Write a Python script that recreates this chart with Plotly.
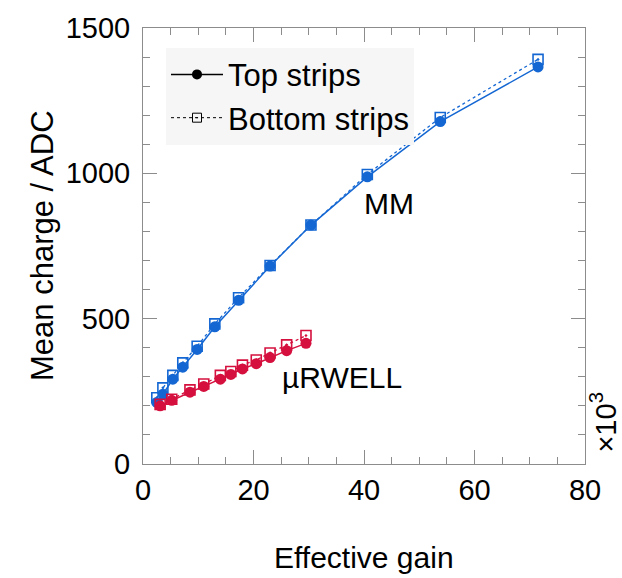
import plotly.graph_objects as go

# ---- data (effective gain in units of 10^3, mean charge in ADC) ----
mm_gain = [2.5, 3.6, 5.4, 7.2, 9.8, 13.0, 17.3, 23.0, 30.4, 40.6, 53.8, 71.5]
mm_top = [212, 240, 292, 333, 394, 472, 563, 681, 822, 988, 1178, 1366]
mm_bottom = [228, 262, 305, 348, 405, 482, 572, 683, 822, 996, 1192, 1392]

ur_gain = [3.1, 5.2, 8.5, 11.0, 14.0, 15.9, 18.0, 20.5, 23.0, 26.0, 29.5]
ur_top = [200, 219, 247, 267, 292, 308, 327, 345, 366, 390, 415]
ur_bottom = [205, 223, 255, 275, 305, 318, 340, 358, 382, 410, 442]

x_ticks = [0, 20, 40, 60, 80]
y_ticks = [0, 500, 1000, 1500]

BLUE = "#1467d3"
RED = "#d5103e"
GREY = "#8c8c8c"
FONT = "Liberation Sans, Arial, Helvetica, sans-serif"
FS_TICK = 29
FS_TXT = 30
FS_TITLE = 31

fig = go.Figure()

for gx, top, bot, col in [(mm_gain, mm_top, mm_bottom, BLUE),
                          (ur_gain, ur_top, ur_bottom, RED)]:
    fig.add_trace(go.Scatter(
        x=gx, y=bot, mode="lines+markers", showlegend=False,
        line=dict(color=col, width=1.3, dash="dot"),
        marker=dict(symbol="square-open-dot", size=10, color=col,
                    line=dict(color=col, width=1.6)),
    ))
    fig.add_trace(go.Scatter(
        x=gx, y=top, mode="lines+markers", showlegend=False,
        line=dict(color=col, width=1.5),
        marker=dict(symbol="circle", size=11, color=col),
    ))

# legend entries (black)
fig.add_trace(go.Scatter(
    x=[None], y=[None], mode="lines+markers", name="Top strips",
    line=dict(color="black", width=1.5),
    marker=dict(symbol="circle", size=10, color="black"),
))
fig.add_trace(go.Scatter(
    x=[None], y=[None], mode="lines+markers", name="Bottom strips",
    line=dict(color="black", width=1, dash="dot"),
    marker=dict(symbol="square-open-dot", size=9, color="black",
                line=dict(color="black", width=1)),
))

axis_common = dict(
    showgrid=False, zeroline=False, showline=True, linecolor=GREY,
    linewidth=1, mirror="allticks", ticks="inside", ticklen=14,
    tickwidth=1, tickcolor=GREY, tickfont=dict(size=FS_TICK, color="black"),
)

fig.update_xaxes(
    range=[0, 80], tickmode="array", tickvals=x_ticks,
    ticktext=[str(v) for v in x_ticks],
    minor=dict(dtick=5, tick0=0, ticks="inside", ticklen=7, tickcolor=GREY,
               showgrid=False),
    ticklabelstandoff=0,
    **axis_common,
)
fig.update_yaxes(
    range=[0, 1500], tickmode="array", tickvals=y_ticks,
    ticktext=[str(v) for v in y_ticks],
    minor=dict(dtick=100, tick0=0, ticks="inside", ticklen=7, tickcolor=GREY,
               showgrid=False),
    ticklabelstandoff=6,
    **axis_common,
)

fig.add_annotation(x=39.6, y=896, xref="x", yref="y", text="MM",
                   showarrow=False, xanchor="left", yanchor="middle",
                   font=dict(size=FS_TXT, color="black"))
fig.add_annotation(x=24.8, y=299, xref="x", yref="y", text="µRWELL",
                   showarrow=False, xanchor="left", yanchor="middle",
                   font=dict(size=FS_TXT, color="black"))
fig.add_annotation(x=(364 - 143) / 442, y=(464 - 559) / 442, xref="paper",
                   yref="paper", text="Effective gain", showarrow=False,
                   xanchor="center", yanchor="middle",
                   font=dict(size=FS_TITLE - 1, color="black"))
fig.add_annotation(x=(42 - 143) / 442, y=0.5, xref="paper", yref="paper",
                   text="Mean charge / ADC", showarrow=False, textangle=-90,
                   xanchor="center", yanchor="middle",
                   font=dict(size=FS_TITLE, color="black"))
fig.add_annotation(x=(603 - 143) / 442, y=(464 - 422) / 442, xref="paper",
                   yref="paper", text="×10<sup>3</sup>", showarrow=False,
                   textangle=-90, xanchor="center", yanchor="middle",
                   font=dict(size=FS_TXT - 1, color="black"))

fig.update_layout(
    width=622, height=578,
    margin=dict(l=143, r=37, t=22, b=114),
    paper_bgcolor="white", plot_bgcolor="white",
    font=dict(family=FONT, size=FS_TXT, color="black"),
    showlegend=True,
    legend=dict(x=(166 - 143) / 442, y=(464 - 42) / 442,
                xanchor="left", yanchor="top",
                bgcolor="#f6f6f6", borderwidth=0,
                font=dict(size=FS_TITLE, color="black"),
                itemwidth=52, tracegroupgap=0),
)

fig.write_html("out.html")
